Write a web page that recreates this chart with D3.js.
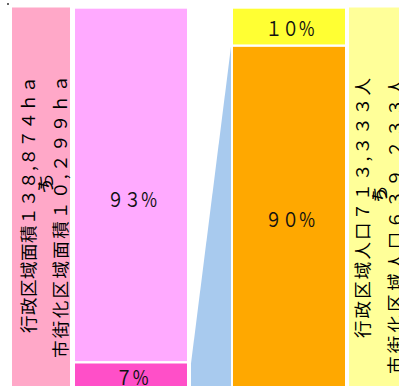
<!DOCTYPE html>
<html><head><meta charset="utf-8">
<script src="https://cdn.jsdelivr.net/npm/d3@7"></script>
<style>html,body{margin:0;padding:0;background:#fff;overflow:hidden}</style>
</head><body>
<script>
// ---- data ----
const leftSegments = ["市街化区域", "市街化区域外"];
const leftShares = [7, 93];          // bottom -> top
const leftLabels = ["７%", "９３%"];
const rightSegments = ["市街化区域人口", "その他"];
const rightShares = [90, 10];        // bottom -> top
const rightLabels = ["９０%", "１０%"];
const areaLines = ["行政区域面積１３８,８７４ｈａ", "うち", "市街化区域面積１０,２９９ｈａ"];
const popLines = ["行政区域人口７１３,３３３人", "うち", "市街化区域人口６３９,２３３人"];

// ---- styles ----
const leftColors = ["#ff4fc8", "#ffaaff"];
const rightColors = ["#ffa800", "#ffff33"];
const areaBoxColor = "#ffa8c8";
const popBoxColor = "#ffff99";
const linkColor = "#a8caee";

const W = 399, H = 386;
const svg = d3.select("body").append("svg").attr("width", W).attr("height", H);

const y = d3.scaleLinear().domain([0, 100]).range([389, 7.5]);
// column layout
const col = {
  areaBox: [12, 70],
  leftBar: [75, 187],
  rightBar: [233, 345],
  popBox: [349, 407]
};
const inset = 1.2;

// tiny mark
svg.append("rect").attr("x", 7).attr("y", 3).attr("width", 2).attr("height", 2).attr("fill", "#666");

// label boxes
svg.append("rect").attr("x", col.areaBox[0]).attr("y", y(100)).attr("width", col.areaBox[1] - col.areaBox[0])
  .attr("height", H + 10).attr("fill", areaBoxColor);
svg.append("rect").attr("x", col.popBox[0]).attr("y", y(100)).attr("width", col.popBox[1] - col.popBox[0])
  .attr("height", H + 10).attr("fill", popBoxColor);

function stack(shares) {
  let c = 0;
  return shares.map(v => { const s = {v, y0: c, y1: c + v}; c += v; return s; });
}
const leftStack = stack(leftShares);
const rightStack = stack(rightShares);

// connector between 7% and 90%
const lx = col.leftBar[1] + 4, rx = col.rightBar[0] - 2;
svg.append("path")
  .attr("d", d3.line()([[lx, y(leftStack[0].y1) + inset], [rx, y(rightStack[0].y1) + inset], [rx, H + 10], [lx, H + 10]]) + "Z")
  .attr("fill", linkColor);

function drawBar(st, colors, labels, xr, dys, lens) {
  const g = svg.append("g");
  g.selectAll("rect").data(st).join("rect")
    .attr("x", xr[0]).attr("width", xr[1] - xr[0])
    .attr("y", d => y(d.y1) + inset)
    .attr("height", d => y(d.y0) - y(d.y1) - 2 * inset)
    .attr("fill", (d, i) => colors[i]);
  g.selectAll("text").data(st).join("text")
    .attr("x", (xr[0] + xr[1]) / 2 + 1)
    .attr("y", (d, i) => (y(d.y0) + y(d.y1)) / 2 + dys[i])
    .attr("text-anchor", "middle").attr("dominant-baseline", "central")
    .attr("font-family", "'Noto Sans CJK JP', sans-serif").attr("font-size", 20)
    .attr("textLength", (d, i) => lens[i]).attr("lengthAdjust", "spacingAndGlyphs")
    .attr("fill", "#111")
    .text((d, i) => labels[i]);
}
drawBar(leftStack, leftColors, leftLabels, col.leftBar, [1, 14], [33, 50]);
drawBar(rightStack, rightColors, rightLabels, col.rightBar, [1, 1], [50, 49]);

function vtext(cx, bottom, top, str) {
  svg.append("text")
    .attr("transform", `translate(${cx},${bottom}) rotate(-90)`)
    .attr("x", 0).attr("y", 0)
    .attr("dominant-baseline", "central")
    .attr("font-family", "'Noto Sans CJK JP', sans-serif").attr("font-size", 17.5)
    .attr("fill", "#000")
    .attr("textLength", bottom - top).attr("lengthAdjust", "spacing")
    .text(str);
}
vtext(27, 333, 76, areaLines[0]);
vtext(44, 195, 173, areaLines[1]);
vtext(59, 358, 75, areaLines[2]);
vtext(361, 338, 78, popLines[0]);
vtext(378, 204, 185, popLines[1]);
vtext(394, 374, 78, popLines[2]);
</script>
</body></html>
